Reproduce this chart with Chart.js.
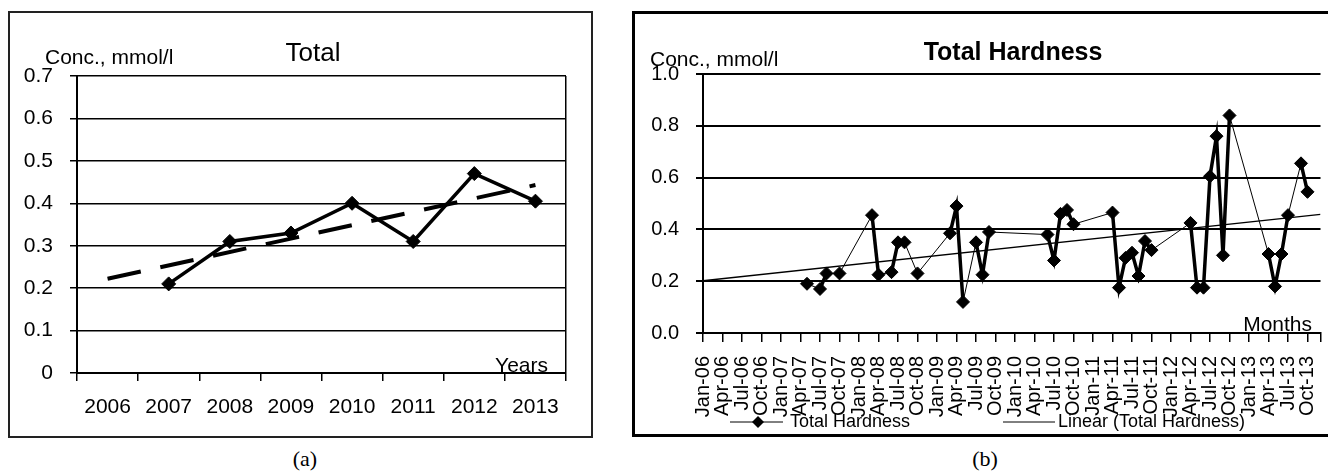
<!DOCTYPE html>
<html>
<head>
<meta charset="utf-8">
<script src="https://cdn.jsdelivr.net/npm/chart.js@4.4.1/dist/chart.umd.min.js"></script>
<style>
  html, body { margin: 0; padding: 0; background: #fff; overflow: hidden; }
  body { width: 1328px; height: 471px; position: relative; }
  .box { position: absolute; box-sizing: border-box; }
  #boxA { left: 8px; top: 11px; width: 585px; height: 427px; border: 2px solid #222; }
  #boxB { left: 632px; top: 11px; width: 720px; height: 426px; border: 3px solid #000; }
  canvas { position: absolute; }
  #chartA { left: 10px; top: 13px; }
  #chartB { left: 636px; top: 14px; }
  .cap { position: absolute; top: 446px; width: 60px; text-align: center;
         font: 22px "Liberation Serif", "Times New Roman", serif; }
</style>
</head>
<body>
<div class="box" id="boxA"></div>
<div class="box" id="boxB"></div>
<canvas id="chartA" width="580" height="423"></canvas>
<canvas id="chartB" width="692" height="420"></canvas>
<div class="cap" style="left:275px">(a)</div>
<div class="cap" style="left:955px">(b)</div>

<script>
// ---- panel (a): yearly means ----
const years = ['2006', '2007', '2008', '2009', '2010', '2011', '2012', '2013'];
const totalYearly = [null, 0.21, 0.31, 0.33, 0.40, 0.31, 0.47, 0.405];
const trendYearly = [0.222, null, null, null, null, null, null, 0.443];
const yTicksA = ['0', '0.1', '0.2', '0.3', '0.4', '0.5', '0.6', '0.7'];

// ---- panel (b): monthly samples ----
const monthNames = ['Jan', 'Feb', 'Mar', 'Apr', 'May', 'Jun', 'Jul', 'Aug', 'Sep', 'Oct', 'Nov', 'Dec'];
const sampleMonths = [
  'May-07', 'Jul-07', 'Aug-07', 'Oct-07', 'Mar-08', 'Apr-08', 'Jun-08', 'Jul-08', 'Aug-08', 'Oct-08',
  'Mar-09', 'Apr-09', 'May-09', 'Jul-09', 'Aug-09', 'Sep-09', 'Jun-10', 'Jul-10', 'Aug-10', 'Sep-10',
  'Oct-10', 'Apr-11', 'May-11', 'Jun-11', 'Jul-11', 'Aug-11', 'Sep-11', 'Oct-11', 'Apr-12', 'May-12',
  'Jun-12', 'Jul-12', 'Aug-12', 'Sep-12', 'Oct-12', 'Apr-13', 'May-13', 'Jun-13', 'Jul-13', 'Sep-13',
  'Oct-13'
];
const hardness = [
  0.19, 0.17, 0.23, 0.23, 0.455, 0.225, 0.235, 0.35, 0.35, 0.23,
  0.385, 0.49, 0.12, 0.35, 0.225, 0.39, 0.38, 0.28, 0.46, 0.475,
  0.42, 0.465, 0.175, 0.29, 0.31, 0.22, 0.355, 0.32, 0.425, 0.175,
  0.175, 0.605, 0.76, 0.30, 0.84, 0.305, 0.18, 0.305, 0.455, 0.655,
  0.545
];
const trendMonths = ['Jan-06', 'Dec-13'];
const trendMonthly = [0.202, 0.458];
const monthTicks = [
  'Jan-06', 'Apr-06', 'Jul-06', 'Oct-06', 'Jan-07', 'Apr-07', 'Jul-07', 'Oct-07',
  'Jan-08', 'Apr-08', 'Jul-08', 'Oct-08', 'Jan-09', 'Apr-09', 'Jul-09', 'Oct-09',
  'Jan-10', 'Apr-10', 'Jul-10', 'Oct-10', 'Jan-11', 'Apr-11', 'Jul-11', 'Oct-11',
  'Jan-12', 'Apr-12', 'Jul-12', 'Oct-12', 'Jan-13', 'Apr-13', 'Jul-13', 'Oct-13'
];
const yTicksB = ['0.0', '0.2', '0.4', '0.6', '0.8', '1.0'];

// months counted from Jan-06
function monthIndex(label) {
  const [m, y] = label.split('-');
  return (parseInt(y, 10) - 6) * 12 + monthNames.indexOf(m);
}
const lastMonth = monthIndex('Dec-13');

Chart.defaults.font.family = '"Liberation Sans", Arial, sans-serif';
Chart.defaults.color = '#000';

// free text drawn on the canvas (titles, axis captions)
const notesPlugin = {
  id: 'notes',
  afterDraw(chart, args, opts) {
    const ctx = chart.ctx;
    ctx.save();
    ctx.fillStyle = '#000';
    ctx.textBaseline = 'alphabetic';
    (opts.items || []).forEach(n => {
      ctx.font = n.font;
      ctx.textAlign = n.align;
      ctx.fillText(n.text, n.x, n.y);
    });
    ctx.restore();
  }
};

// legend of panel (b), drawn over the tick labels like in the original
const legendB = {
  id: 'legendB',
  afterDraw(chart) {
    const ctx = chart.ctx;
    const y = 408;
    const ds = chart.data.datasets;
    ctx.save();
    ctx.strokeStyle = '#000';
    ctx.fillStyle = '#000';
    ctx.lineWidth = 1;
    ctx.beginPath(); ctx.moveTo(94, y); ctx.lineTo(147, y); ctx.stroke();
    ctx.beginPath();
    ctx.moveTo(122, y - 6); ctx.lineTo(128, y); ctx.lineTo(122, y + 6); ctx.lineTo(116, y);
    ctx.closePath(); ctx.fill();
    ctx.beginPath(); ctx.moveTo(367, y); ctx.lineTo(419, y); ctx.stroke();
    ctx.font = '18px "Liberation Sans", Arial, sans-serif';
    ctx.textAlign = 'left';
    ctx.textBaseline = 'middle';
    ctx.fillText(ds[0].label, 154, y);
    ctx.fillText(ds[1].label, 422, y);
    ctx.restore();
  }
};

new Chart(document.getElementById('chartA'), {
  type: 'line',
  data: {
    labels: years,
    datasets: [{
      label: 'Total',
      data: totalYearly,
      borderColor: '#000',
      backgroundColor: '#000',
      borderWidth: 3.5,
      pointStyle: 'rectRot',
      pointRadius: 7,
      pointBorderWidth: 1
    }, {
      label: 'Linear (Total)',
      data: trendYearly,
      spanGaps: true,
      borderColor: '#000',
      borderWidth: 4,
      borderDash: [34, 20],
      pointRadius: 0
    }]
  },
  options: {
    responsive: false,
    animation: false,
    layout: { padding: { top: 63, right: 24, left: 0, bottom: 0 } },
    plugins: {
      legend: { display: false },
      tooltip: { enabled: false },
      notes: {
        items: [
          { text: 'Total', x: 303, y: 48, align: 'center', font: '26px "Liberation Sans", Arial, sans-serif' },
          { text: 'Conc., mmol/l', x: 35, y: 51, align: 'left', font: '21px "Liberation Sans", Arial, sans-serif' },
          { text: 'Years', x: 538, y: 359, align: 'right', font: '21px "Liberation Sans", Arial, sans-serif' }
        ]
      }
    },
    scales: {
      x: {
        offset: true,
        afterFit: s => { s.height = 63; s.paddingLeft = 0; s.paddingRight = 0; },
        grid: {
          offset: true,
          drawOnChartArea: true,
          color: c => (c.tick ? 'rgba(0,0,0,0)' : '#000'),
          tickColor: '#000',
          tickLength: 8,
          lineWidth: 1.5
        },
        border: { color: '#000', width: 2 },
        ticks: { font: { size: 21 }, padding: 14, maxRotation: 0, autoSkip: false }
      },
      y: {
        min: 0,
        max: 0.7,
        afterFit: s => { s.width = 67; },
        grid: { color: '#000', tickColor: '#000', lineWidth: 1.5, tickLength: 7 },
        border: { color: '#000', width: 2 },
        ticks: { stepSize: 0.1, font: { size: 21 }, padding: 17, callback: (v, i) => yTicksA[i] }
      }
    }
  },
  plugins: [notesPlugin]
});

new Chart(document.getElementById('chartB'), {
  type: 'line',
  data: {
    datasets: [{
      label: 'Total Hardness',
      data: sampleMonths.map((m, i) => ({ x: monthIndex(m), y: hardness[i] })),
      borderColor: '#000',
      backgroundColor: '#000',
      borderWidth: 1,
      segment: { borderWidth: c => (c.p1.parsed.x - c.p0.parsed.x === 1 ? 3.5 : 1) },
      pointStyle: 'rectRot',
      pointRadius: 6.5,
      pointBorderWidth: 1
    }, {
      label: 'Linear (Total Hardness)',
      data: trendMonths.map((m, i) => ({ x: monthIndex(m), y: trendMonthly[i] })),
      borderColor: '#000',
      borderWidth: 1.5,
      pointRadius: 0
    }]
  },
  options: {
    responsive: false,
    animation: false,
    layout: { padding: { top: 60, right: 6, left: 0, bottom: 0 } },
    plugins: {
      legend: { display: false },
      tooltip: { enabled: false },
      notes: {
        items: [
          { text: 'Total Hardness', x: 377, y: 46, align: 'center', font: 'bold 25px "Liberation Sans", Arial, sans-serif' },
          { text: 'Conc., mmol/l', x: 14, y: 52, align: 'left', font: '21px "Liberation Sans", Arial, sans-serif' },
          { text: 'Months', x: 676, y: 317, align: 'right', font: '21px "Liberation Sans", Arial, sans-serif' }
        ]
      }
    },
    scales: {
      x: {
        type: 'linear',
        min: 0,
        max: lastMonth,
        afterBuildTicks: axis => {
          axis.ticks = monthTicks.map((t, i) => ({ value: i * 3 })).concat({ value: lastMonth });
        },
        afterFit: s => { s.height = 101; s.paddingLeft = 0; s.paddingRight = 0; },
        grid: { drawOnChartArea: false, tickColor: '#000', tickLength: 9, lineWidth: 1.5 },
        border: { color: '#000', width: 2 },
        ticks: {
          font: { size: 20 },
          padding: 14,
          autoSkip: false,
          minRotation: 90,
          maxRotation: 90,
          callback: v => monthTicks[v / 3] ?? ''
        }
      },
      y: {
        min: 0,
        max: 1,
        afterFit: s => { s.width = 67; },
        grid: { color: '#000', tickColor: '#000', lineWidth: 2, tickLength: 7 },
        border: { color: '#000', width: 2 },
        ticks: { stepSize: 0.2, font: { size: 20 }, padding: 17, callback: (v, i) => yTicksB[i] }
      }
    }
  },
  plugins: [notesPlugin, legendB]
});
</script>
</body>
</html>
